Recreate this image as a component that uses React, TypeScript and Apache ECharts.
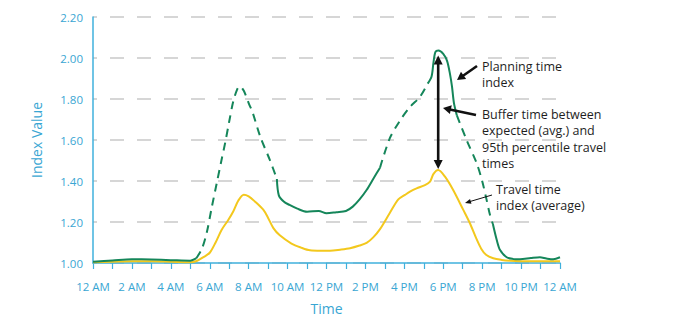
import React, { useEffect, useRef } from "react";
import * as echarts from "echarts";

// ---- data ----
const tickLabels = ["12 AM", "2 AM", "4 AM", "6 AM", "8 AM", "10 AM", "12 PM", "2 PM", "4 PM", "6 PM", "8 PM", "10 PM", "12 AM"];

const planningHours = [0, 1, 2, 3, 4, 5, 5.3, 5.6, 5.85, 6.1, 6.36, 6.6, 6.8, 7.0, 7.2, 7.4, 7.55, 7.75, 8.0, 8.2, 8.6, 9.1, 9.45, 9.55, 9.8, 10.1, 10.5, 11.0, 11.6, 12.0, 12.5, 13.0, 13.35, 13.7, 14.06, 14.4, 14.75, 15.26, 15.78, 16.3, 16.8, 17.2, 17.4, 17.5, 17.6, 17.75, 18.0, 18.2, 18.35, 18.45, 18.55, 18.7, 19.2, 19.72, 20.0, 20.2, 20.4, 20.55, 20.75, 20.92, 21.26, 21.6, 21.94, 22.5, 22.97, 23.3, 23.65, 24];
const planningValues = [1.006, 1.012, 1.018, 1.017, 1.014, 1.011, 1.022, 1.07, 1.15, 1.27, 1.39, 1.5, 1.59, 1.69, 1.785, 1.845, 1.862, 1.84, 1.78, 1.735, 1.615, 1.5, 1.41, 1.33, 1.3, 1.283, 1.265, 1.25, 1.254, 1.243, 1.248, 1.254, 1.275, 1.31, 1.356, 1.41, 1.465, 1.61, 1.695, 1.762, 1.81, 1.875, 1.91, 1.98, 2.03, 2.036, 2.02, 1.985, 1.92, 1.86, 1.78, 1.72, 1.6, 1.486, 1.4, 1.32, 1.235, 1.19, 1.112, 1.063, 1.028, 1.02, 1.018, 1.024, 1.028, 1.022, 1.018, 1.028];
// hour ranges where the planning-time line is drawn dashed
const dashedRanges = [[5.3, 9.45], [14.75, 17.2], [18.7, 20.55]];

const travelHours = [0, 1, 2, 3, 4, 5, 5.33, 5.7, 6.0, 6.3, 6.6, 6.95, 7.2, 7.47, 7.75, 8.0, 8.32, 8.75, 9.0, 9.27, 9.6, 10.2, 10.7, 11.15, 11.7, 12.18, 12.7, 13.21, 13.7, 14.06, 14.4, 14.75, 15.26, 15.69, 16.03, 16.29, 16.63, 17.06, 17.32, 17.5, 17.74, 18.09, 18.51, 19.03, 19.37, 19.72, 19.95, 20.2, 20.57, 21.0, 21.43, 22.0, 23.0, 24];
const travelValues = [1.004, 1.006, 1.008, 1.008, 1.006, 1.004, 1.01, 1.03, 1.05, 1.1, 1.16, 1.21, 1.25, 1.305, 1.333, 1.325, 1.3, 1.26, 1.22, 1.17, 1.135, 1.095, 1.075, 1.062, 1.06, 1.06, 1.065, 1.072, 1.085, 1.098, 1.125, 1.165, 1.245, 1.31, 1.332, 1.348, 1.364, 1.38, 1.397, 1.435, 1.454, 1.421, 1.356, 1.259, 1.194, 1.115, 1.07, 1.04, 1.023, 1.015, 1.011, 1.009, 1.008, 1.008];

const BLUE = "#3fb0dc";
const BLUE_TEXT = "#39a6d3";
const GREEN = "#15865a";
const YELLOW = "#f3c81d";
const FONT = "'Open Sans', Lato, sans-serif";

function inDashed(h: number, strict: boolean) {
  return dashedRanges.some(([a, b]) => (strict ? h > a && h < b : h >= a && h <= b));
}

function arrowHead(tx: number, ty: number, fx: number, fy: number, len: number, w: number) {
  const dx = tx - fx, dy = ty - fy;
  const d = Math.sqrt(dx * dx + dy * dy) || 1;
  const ux = dx / d, uy = dy / d;
  const bx = tx - ux * len, by = ty - uy * len;
  return [[tx, ty], [bx - uy * w, by + ux * w], [bx + uy * w, by - ux * w]];
}

function arrow(x1: number, y1: number, x2: number, y2: number, lw: number, hl: number, hw: number, both = false) {
  const els: any[] = [];
  const dx = x2 - x1, dy = y2 - y1;
  const d = Math.sqrt(dx * dx + dy * dy);
  const ux = dx / d, uy = dy / d;
  const sx = both ? x1 + ux * (hl - 1) : x1;
  const sy = both ? y1 + uy * (hl - 1) : y1;
  els.push({ type: "line", shape: { x1: sx, y1: sy, x2: x2 - ux * (hl - 1), y2: y2 - uy * (hl - 1) }, style: { stroke: "#111", lineWidth: lw }, z: 100 });
  els.push({ type: "polygon", shape: { points: arrowHead(x2, y2, x1, y1, hl, hw) }, style: { fill: "#111" }, z: 100 });
  if (both) els.push({ type: "polygon", shape: { points: arrowHead(x1, y1, x2, y2, hl, hw) }, style: { fill: "#111" }, z: 100 });
  return els;
}

function textEl(x: number, y: number, text: string) {
  return { type: "text", x, y, style: { text, font: `12.5px ${FONT}`, fill: "#1e1e1e", lineHeight: 16.5, textVerticalAlign: "top" }, z: 100 };
}

export default function App() {
  const ref = useRef<HTMLDivElement>(null);
  useEffect(() => {
    if (!ref.current) return;
    document.body.style.margin = "0";
    const chart = echarts.init(ref.current, undefined, { renderer: "svg" });
    const solid = planningHours.map((h, i) => (inDashed(h, true) ? [h, null] : [h, planningValues[i]]));
    const dashed = planningHours.map((h, i) => (inDashed(h, false) ? [h, planningValues[i]] : [h, null]));
    const travel = travelHours.map((h, i) => [h, travelValues[i]]);
    chart.setOption({
      animation: false,
      grid: { left: 93, right: 118, top: 17, bottom: 60 },
      xAxis: {
        type: "value",
        min: 0,
        max: 24,
        interval: 1,
        name: "Time",
        nameLocation: "middle",
        nameGap: 38,
        nameTextStyle: { color: BLUE_TEXT, fontSize: 14, fontFamily: FONT },
        axisLine: { show: true, lineStyle: { color: BLUE, width: 1.5 } },
        axisTick: { show: true, length: 6, lineStyle: { color: BLUE, width: 1.2 } },
        axisLabel: {
          color: BLUE_TEXT,
          fontSize: 11.5,
          fontFamily: FONT,
          margin: 17,
          showMinLabel: true,
          showMaxLabel: true,
          formatter: (v: number) => (Math.round(v) % 2 === 0 ? tickLabels[Math.round(v) / 2] : ""),
        },
        splitLine: { show: false },
      },
      yAxis: {
        type: "value",
        min: 1,
        max: 2.2,
        interval: 0.2,
        name: "Index Value",
        nameLocation: "middle",
        nameGap: 50,
        nameTextStyle: { color: BLUE_TEXT, fontSize: 14, fontFamily: FONT },
        axisLine: { show: true, lineStyle: { color: BLUE, width: 1.5 } },
        axisTick: { show: false },
        axisLabel: { color: BLUE_TEXT, fontSize: 11.5, fontFamily: FONT, margin: 10, formatter: (v: number) => v.toFixed(2) },
        splitLine: { show: true, lineStyle: { color: "#c9c9c9", width: 1.5, type: [14, 13], dashOffset: 10 } },
      },
      series: [
        { type: "line", data: travel, smooth: 0.3, showSymbol: false, lineStyle: { color: YELLOW, width: 2 }, z: 3 },
        { type: "line", data: solid, smooth: 0.3, showSymbol: false, connectNulls: false, lineStyle: { color: GREEN, width: 2 }, z: 4 },
        { type: "line", data: dashed, smooth: 0.3, showSymbol: false, connectNulls: false, lineStyle: { color: GREEN, width: 2, type: [8, 6] }, z: 4 },
      ],
    });
    const top = chart.convertToPixel({ gridIndex: 0 }, [17.74, 2.036]) as number[];
    const bot = chart.convertToPixel({ gridIndex: 0 }, [17.74, 1.454]) as number[];
    chart.setOption({
      graphic: [
        ...arrow(top[0], top[1] + 5, bot[0], bot[1] - 1, 2.6, 9, 4.5, true),
        ...arrow(477, 66, 457, 80, 2.6, 8, 4.5),
        ...arrow(476, 115, 443, 108, 2.6, 8, 4.5),
        ...arrow(492, 195, 465, 203, 1, 6, 2.5),
        textEl(482, 58, "Planning time\nindex"),
        textEl(482, 106, "Buffer time between\nexpected (avg.) and\n95th percentile travel\ntimes"),
        textEl(496, 181, "Travel time\nindex (average)"),
      ],
    });
    return () => chart.dispose();
  }, []);
  return <div ref={ref} style={{ width: 678, height: 323 }} />;
}
